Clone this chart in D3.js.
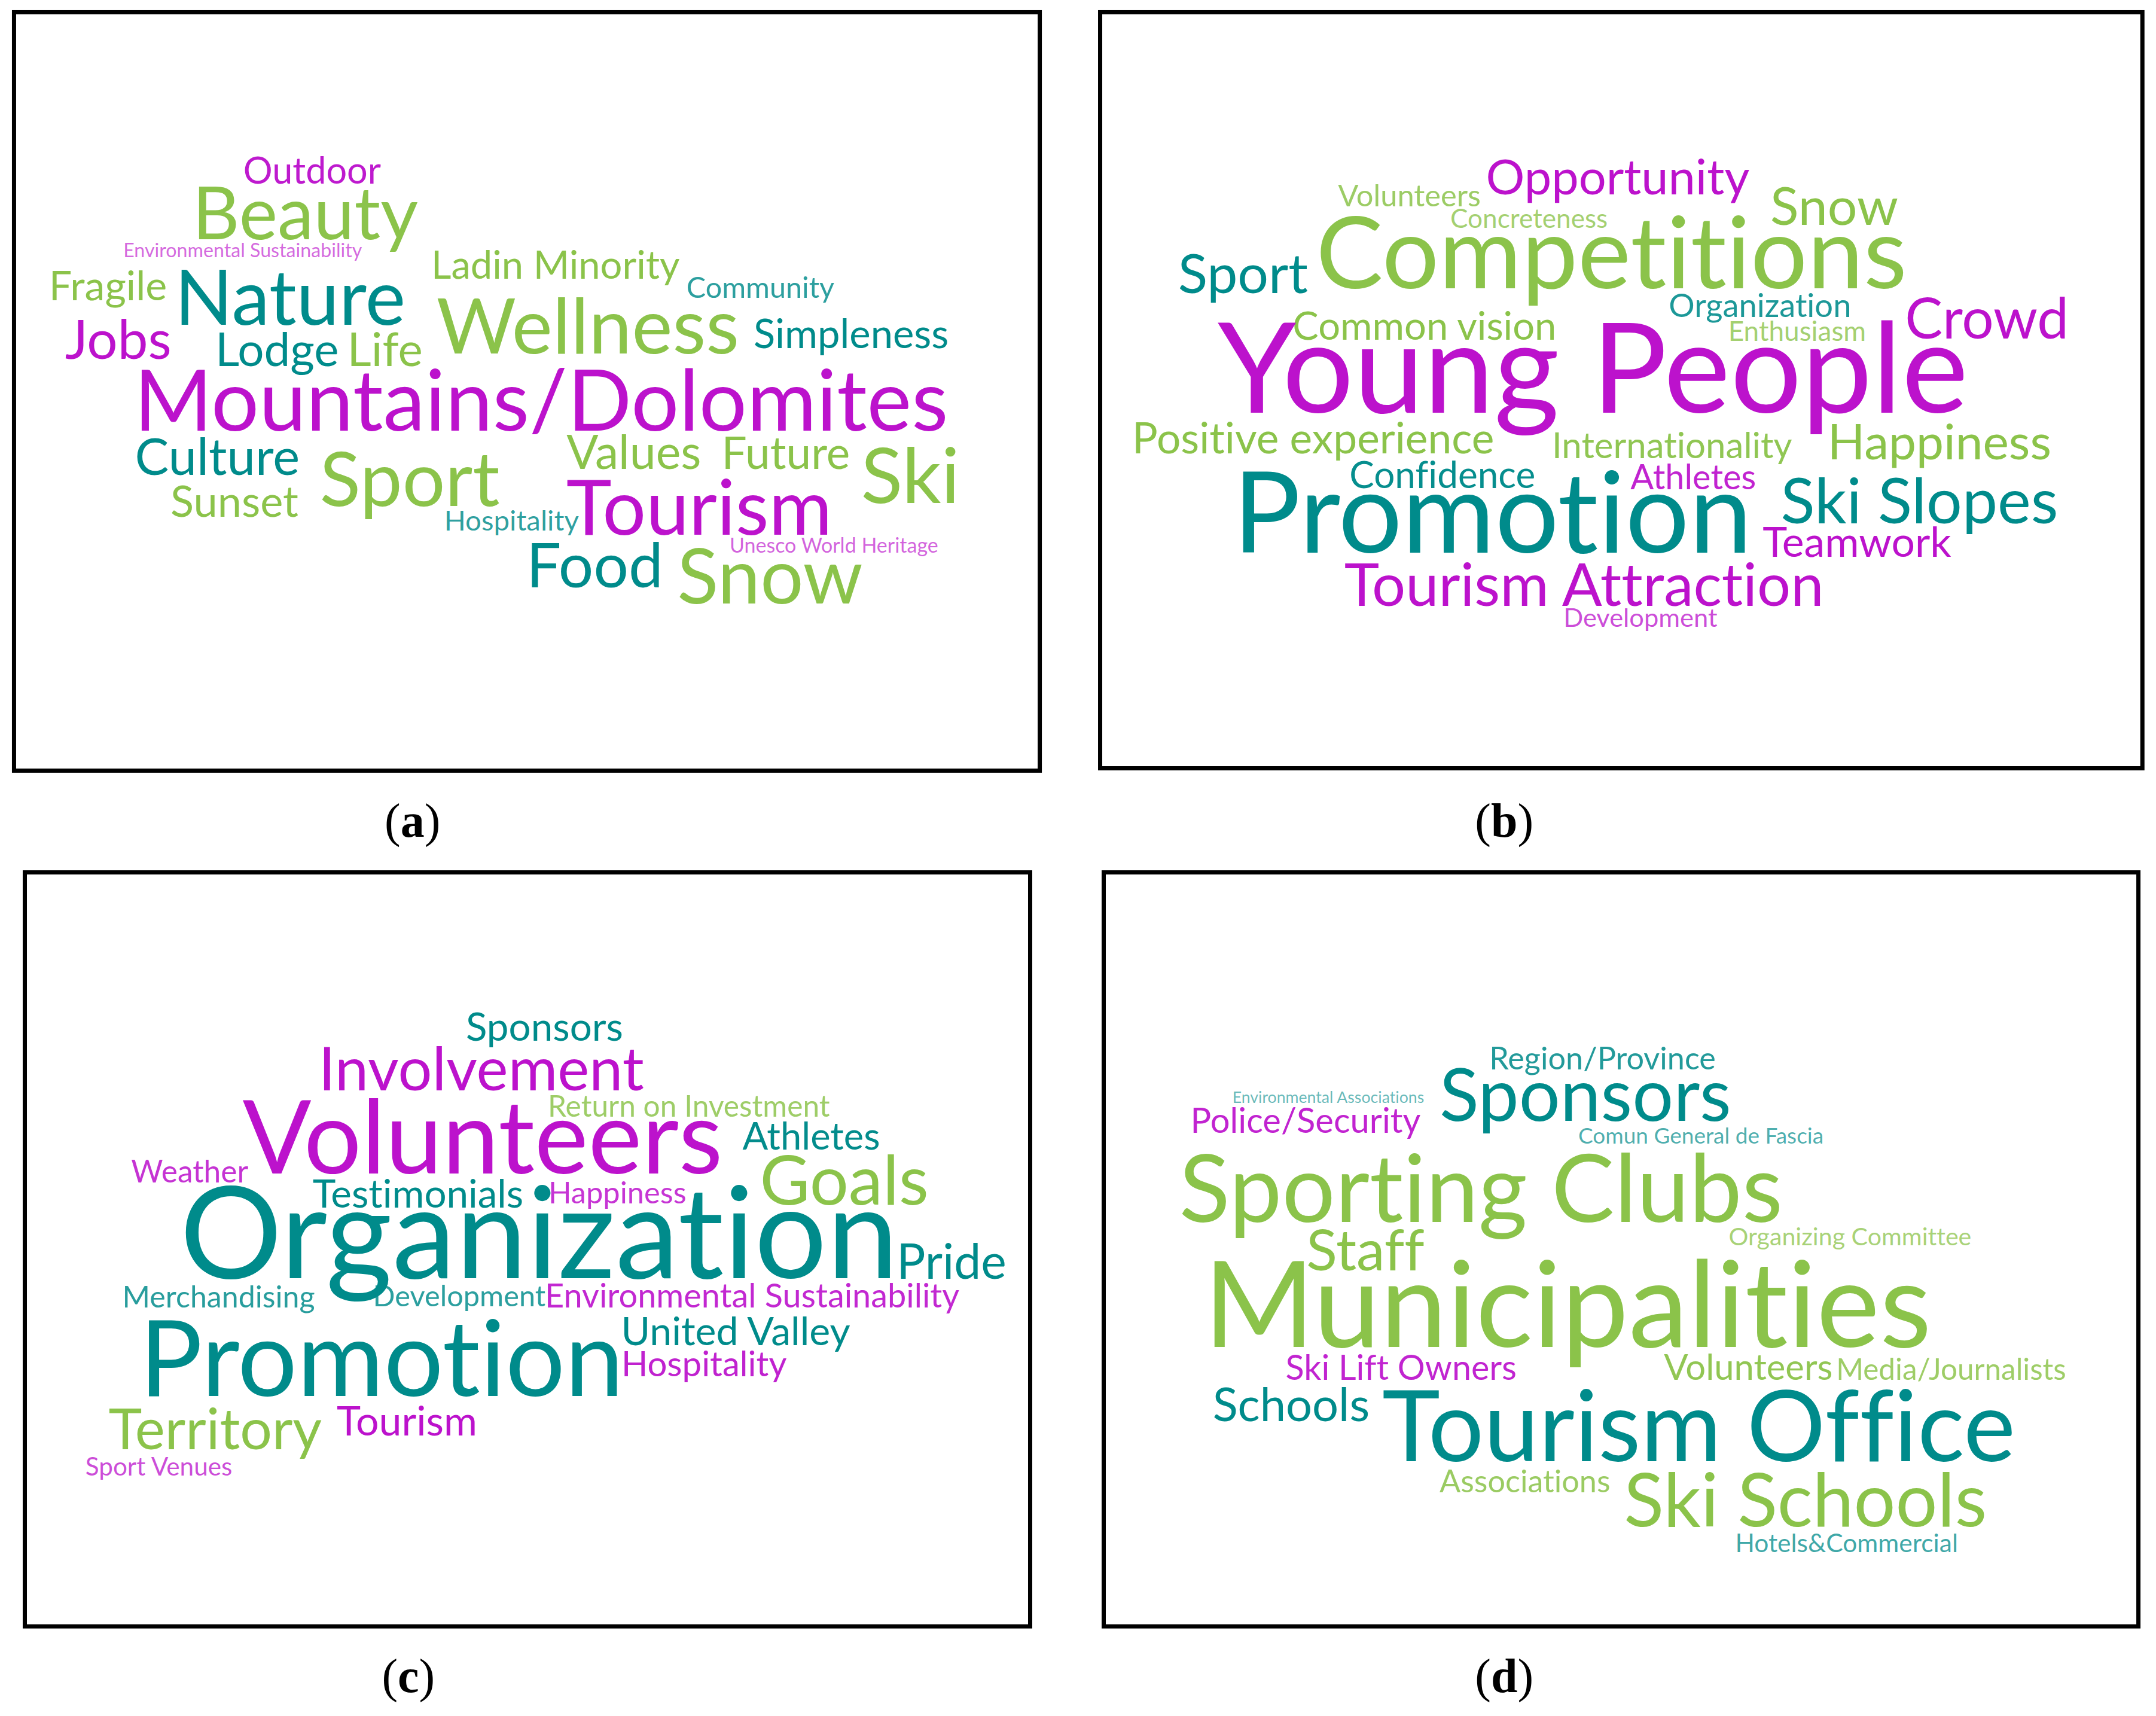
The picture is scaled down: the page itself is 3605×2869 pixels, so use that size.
<!DOCTYPE html>
<html>
<head>
<meta charset="utf-8">
<script src="https://cdn.jsdelivr.net/npm/d3@7"></script>
<style>
  body { margin: 0; background: #fff; }
  svg { display: block; }
</style>
</head>
<body>
<svg id="chart"></svg>
<script>
// word clouds, 4 panels. 0 = magenta, 1 = teal, 2 = green
// weights are read off the picture (font size, thumbnail units)

const wordsA = ['Outdoor', 'Beauty', 'Environmental Sustainability', 'Fragile', 'Nature', 'Jobs', 'Lodge', 'Life',
  'Ladin Minority', 'Community', 'Wellness', 'Simpleness', 'Mountains/Dolomites', 'Culture', 'Sunset', 'Sport',
  'Values', 'Future', 'Ski', 'Hospitality', 'Tourism', 'Unesco World Heritage', 'Food', 'Snow']
const weightsA = [26.6, 53, 14, 29.6, 55.5, 39.4, 34, 34, 28.3, 21.1, 56, 29.1, 61.5, 37, 31.4, 55, 34.3, 32.5, 56, 20.6, 56, 14.8, 44.9, 55.5]
const groupsA = [0, 2, 0, 2, 1, 0, 1, 2, 2, 1, 2, 1, 0, 1, 2, 2, 2, 2, 2, 1, 0, 0, 1, 2]

const wordsB = ['Volunteers', 'Opportunity', 'Concreteness', 'Snow', 'Sport', 'Competitions', 'Organization', 'Crowd',
  'Common vision', 'Enthusiasm', 'Young People', 'Positive experience', 'Internationality', 'Happiness', 'Confidence',
  'Athletes', 'Promotion', 'Ski Slopes', 'Teamwork', 'Tourism Attraction', 'Development']
const weightsB = [22, 35.3, 19.2, 38.2, 39.7, 73, 23.6, 41, 28.3, 20, 91.5, 31, 26.1, 35.7, 27, 25.1, 82, 45.9, 30.3, 43.1, 18.9]
const groupsB = [2, 0, 2, 2, 1, 2, 1, 0, 2, 2, 0, 2, 2, 2, 1, 0, 1, 1, 0, 0, 0]

const wordsC = ['Sponsors', 'Involvement', 'Return on Investment', 'Volunteers', 'Athletes', 'Weather', 'Testimonials',
  'Happiness', 'Goals', 'Organization', 'Pride', 'Merchandising', 'Development', 'Environmental Sustainability',
  'United Valley', 'Promotion', 'Hospitality', 'Territory', 'Tourism', 'Sport Venues']
const weightsC = [28.5, 43.7, 21.6, 74, 27.5, 22.4, 28.5, 22, 50, 92.9, 35, 21.8, 21.2, 24.3, 28.8, 76.5, 25.3, 41.2, 29.6, 18.4]
const groupsC = [1, 0, 2, 0, 1, 0, 1, 0, 2, 1, 1, 1, 1, 0, 1, 1, 0, 2, 0, 0]

const wordsD = ['Region/Province', 'Environmental Associations', 'Sponsors', 'Police/Security', 'Comun General de Fascia',
  'Sporting Clubs', 'Organizing Committee', 'Staff', 'Municipalities', 'Ski Lift Owners', 'Volunteers',
  'Media/Journalists', 'Schools', 'Tourism Office', 'Associations', 'Ski Schools', 'Hotels&Commercial']
const weightsD = [22.7, 11.6, 52.9, 25.2, 16.1, 68.5, 17.9, 41.5, 87, 25, 26, 21.5, 33.8, 71.5, 22.7, 53.7, 18.5]
const groupsD = [1, 1, 1, 0, 1, 2, 2, 2, 2, 0, 2, 2, 1, 1, 2, 2, 1]

const labels = ['a', 'b', 'c', 'd']

// where each word sits: [centre x, baseline y] in thumbnail units
const layoutA = [[227, 133.5], [222, 174], [176.5, 187], [78.5, 218.5], [211, 236], [86, 261], [201.5, 266], [280, 266],
  [404, 202.5], [553, 216.5], [427.5, 257], [619, 253], [393.5, 313], [158, 345.5], [170.5, 376], [298, 368],
  [461, 341], [571.5, 341], [662, 366], [372, 386], [508.5, 389], [606.5, 402], [432.5, 427], [560, 439]]
const layoutB = [[1025, 150], [1176.5, 141.5], [1112, 165.5], [1334, 163.5], [904, 213], [1172, 209.5], [1280, 230.5],
  [1445, 246], [1036, 247], [1307, 248], [1158.5, 300], [955, 329.5], [1216, 333], [1410.5, 334], [1049, 355],
  [1231.5, 356], [1085.5, 402], [1396, 380.5], [1350.5, 405], [1152, 440.5], [1193, 456]]
const layoutC = [[396, 757], [350, 793], [501, 812], [351, 853.5], [590, 836], [138, 860], [304, 878], [449, 875],
  [614, 876], [392, 929.5], [692, 930], [159, 951], [334, 950], [547, 951], [535, 978], [277.5, 1015], [512, 1001],
  [156.5, 1054], [296, 1044], [115.5, 1073]]
const layoutD = [[1165.5, 777.5], [966, 802], [1153, 815], [949.5, 824], [1237, 831.5], [1077, 888.5], [1345.5, 905.5],
  [993, 924], [1140, 979.5], [1019, 1003.5], [1271.5, 1003.5], [1419, 1003.5], [939, 1033.5], [1235.5, 1062.5],
  [1109, 1085], [1313, 1110], [1343, 1128.5]]

const frames = [[10.2, 8.9, 756.2, 560.4], [800.1, 8.9, 1558.1, 558.7], [18.05, 634.4, 749.2, 1182.7], [802.7, 634.4, 1555.2, 1182.7]]
const labelPos = [[300, 608.5], [1094, 608.5], [297, 1230.5], [1094, 1230.5]]

const W = 3605
const H = 2869
const ref = d3.scaleLinear().domain([0, 1568]).range([0, W])
const colour = d3.scaleOrdinal().domain([0, 1, 2]).range(['#bc12cc', '#008b8b', '#8bc34a'])
const fade = d3.scaleLinear().domain([12, 28]).range([0.6, 1]).clamp(true)

const svg = d3.select('#chart')
  .attr('width', W)
  .attr('height', H)

svg.append('rect').attr('width', W).attr('height', H).attr('fill', '#fff')

const clouds = [
  {words: wordsA, weights: weightsA, groups: groupsA, layout: layoutA},
  {words: wordsB, weights: weightsB, groups: groupsB, layout: layoutB},
  {words: wordsC, weights: weightsC, groups: groupsC, layout: layoutC},
  {words: wordsD, weights: weightsD, groups: groupsD, layout: layoutD}
]

clouds.forEach((c, p) => {
  const f = frames[p]
  svg.append('rect')
    .attr('x', ref(f[0]))
    .attr('y', ref(f[1]))
    .attr('width', ref(f[2] - f[0]))
    .attr('height', ref(f[3] - f[1]))
    .attr('fill', 'none')
    .attr('stroke', '#000')
    .attr('stroke-width', 7)

  const data = c.words.map((w, i) => ({
    text: w,
    weight: c.weights[i],
    group: c.groups[i],
    x: c.layout[i][0],
    y: c.layout[i][1]
  }))

  svg.append('g').selectAll('text')
    .data(data)
    .enter()
    .append('text')
    .attr('x', d => ref(d.x))
    .attr('y', d => ref(d.y))
    .attr('text-anchor', 'middle')
    .style('font-family', 'Lato, "Open Sans", sans-serif')
    .style('font-variant-ligatures', 'none')
    .style('font-size', d => ref(d.weight) + 'px')
    .attr('fill', d => colour(d.group))
    .attr('fill-opacity', d => fade(d.weight))
    .text(d => d.text)

  const lp = labelPos[p]
  const lab = svg.append('text')
    .attr('x', ref(lp[0]))
    .attr('y', ref(lp[1]))
    .attr('text-anchor', 'middle')
    .style('font-family', '"Liberation Serif", "Times New Roman", serif')
    .style('font-size', '80px')
    .attr('fill', '#000')
  lab.append('tspan').text('(')
  lab.append('tspan').style('font-weight', 'bold').text(labels[p])
  lab.append('tspan').text(')')
})
</script>
</body>
</html>
